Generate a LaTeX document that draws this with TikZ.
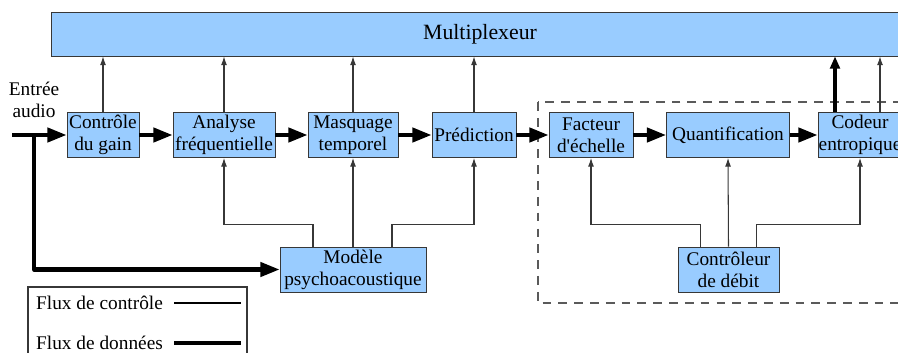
\documentclass[tikz,border=0pt]{standalone}
\usepackage{fontspec}
\setmainfont{Liberation Serif}[Ligatures=TeXOff]
\usepackage{tikz}
\usetikzlibrary{arrows.meta,calc}
\definecolor{blocblue}{RGB}{153,204,255}
\definecolor{traitgray}{RGB}{55,55,55}
\definecolor{pointgray}{RGB}{90,90,90}

\begin{document}
\begin{tikzpicture}[x=0.02cm, y=-0.02cm,
  every node/.style={font=\fontsize{11}{12.4}\selectfont},
  bloc/.style={draw=traitgray, fill=blocblue, align=center, inner sep=0pt,
    minimum height=45*0.02cm},
  ctrl/.style={draw=traitgray, line width=0.6pt, -{Latex[length=5pt,width=3.4pt]}},
  data/.style={line width=2.4pt, line join=round, -{Triangle[length=11pt,width=8pt]}},
  dataup/.style={line width=2.4pt, -{Triangle[length=7pt,width=5.5pt]}},
]

%% page (pixel units, y going down)
\clip (0,0) rectangle (898,352);

%% dashed area round the coder part
\draw[pointgray, line width=0.7pt, dash pattern=on 5pt off 4pt]
  (538,102) rectangle (930,303);

%% Multiplexer (runs past the right edge)
\node[bloc, minimum width=858*0.02cm, minimum height=44*0.02cm,
  font=\fontsize{12.4}{14}\selectfont] (mux) at (480,34) {Multiplexeur};

%% main chain
\node[bloc, minimum width=72*0.02cm]  (gain)  at (103,135) {Contrôle\\du gain};
\node[bloc, minimum width=102*0.02cm] (ana)   at (224,135) {Analyse\\fréquentielle};
\node[bloc, minimum width=90*0.02cm]  (masq)  at (353,135) {Masquage\\temporel};
\node[bloc, minimum width=84*0.02cm]  (pred)  at (474,135) {Prédiction};
\node[bloc, minimum width=84*0.02cm]  (fact)  at (591,135) {Facteur\\d'échelle};
\node[bloc, minimum width=123*0.02cm] (quant) at (728,135) {Quantification};
\node[bloc, minimum width=84*0.02cm]  (cod)   at (860,135) {Codeur\\entropique};

%% lower blocks
\node[bloc, minimum width=146*0.02cm] (psy) at (353,269.5) {Modèle\\psychoacoustique};
\node[bloc, minimum width=101*0.02cm] (deb) at (728.5,269.5) {Contrôleur\\de débit};

%% input
\node[align=center] (entree) at (34,100) {Entrée\\audio};
\coordinate (in) at (12,135);
\coordinate (brch) at (34,135);
\draw[data] (in) -- (gain.west);
\draw[data] (brch) |- (psy.west);

%% data flow
\foreach \a/\b in {gain/ana, ana/masq, masq/pred, pred/fact, fact/quant, quant/cod}
  \draw[data] (\a) -- (\b);

%% to the multiplexer
\foreach \b in {gain, ana, masq, pred}
  \draw[ctrl] (\b.north) -- (\b.north |- mux.south);
\coordinate (codA) at ($(cod.north)+(-25,0)$);
\coordinate (codB) at ($(cod.north)+(20,0)$);
\draw[dataup] (codA) -- (codA |- mux.south);
\draw[ctrl] (codB) -- (codB |- mux.south);

%% psychoacoustic model control
\coordinate (psyL) at ($(psy.north)+(-40,0)$);
\coordinate (psyR) at ($(psy.north)+(39,0)$);
\draw[ctrl] (psyL) -- ++(0,-22) -| (ana.south);
\draw[ctrl] (psy.north) -- (masq.south);
\draw[ctrl] (psyR) -- ++(0,-22) -| (pred.south);

%% rate controller
\coordinate (debL) at ($(deb.north)+(-28,0)$);
\coordinate (debR) at ($(deb.north)+(28,0)$);
\draw[ctrl] (debL) -- ++(0,-22) -| (fact.south);
\draw[ctrl] (deb.north) -- (quant.south);
\draw[ctrl] (debR) -- ++(0,-22) -| (cod.south);

%% Legend
\draw[traitgray, line width=0.6pt] (28,287) rectangle (247,380);
\node[anchor=west] (lgctrl) at (30,303) {Flux de contrôle};
\node[anchor=west] (lgdata) at (30,343) {Flux de données};
\coordinate (lc1) at (174,303);
\coordinate (lc2) at (241,303);
\coordinate (ld1) at (174,343);
\coordinate (ld2) at (241,343);
\draw[line width=0.8pt] (lc1) -- (lc2);
\draw[line width=2.4pt] (ld1) -- (ld2);

\end{tikzpicture}
\end{document}
